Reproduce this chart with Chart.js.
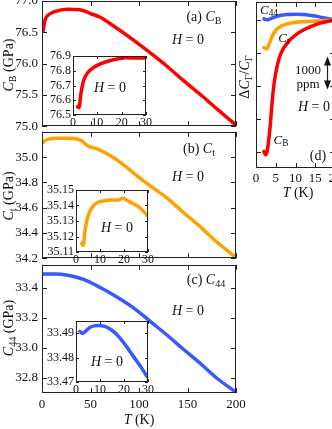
<!DOCTYPE html>
<html>
<head>
<meta charset="utf-8">
<script src="https://cdn.jsdelivr.net/npm/chart.js"></script>
<style>
  html, body { margin:0; padding:0; background:#fff; }
  body { width:332px; height:429px; position:relative; overflow:hidden; font-family:"Liberation Serif", serif; color:#111; }
  .box { position:absolute; }
  .lbl { position:absolute; white-space:nowrap; font-size:14px; line-height:1; transform:translate(-50%,-50%); }
  .rot { transform:translate(-50%,-50%) rotate(-90deg); }
  .sm { font-size:13px; }
  i { font-style:italic; }
  sub { font-size:72%; vertical-align:-0.3em; line-height:0; font-style:normal; }
</style>
</head>
<body>
<script>
// ---- data ----
// (a) C_B (GPa) vs T (K)
const tempA = [1.3, 3, 6, 13, 26, 39, 50, 60, 70, 94, 111, 128, 145, 163, 180, 199];
const cB    = [76.53, 76.69, 76.77, 76.83, 76.87, 76.86, 76.80, 76.74, 76.64, 76.38, 76.18, 75.97, 75.74, 75.51, 75.28, 75.03];
// (b) C_t
const tempB = [1, 3, 6, 16, 30, 40, 47, 57, 66, 78, 95, 112, 130, 146, 163, 180, 199];
const cT    = [35.115, 35.13, 35.14, 35.149, 35.149, 35.133, 35.09, 35.064, 35.03, 34.974, 34.87, 34.77, 34.67, 34.56, 34.45, 34.33, 34.21];
// (c) C_44
const tempC = [1, 5, 15, 25, 44, 61, 78.5, 96, 113, 130, 147, 164.5, 180, 199];
const c44   = [33.494, 33.494, 33.494, 33.487, 33.455, 33.40, 33.335, 33.26, 33.17, 33.08, 32.985, 32.89, 32.80, 32.71];

// insets, 0-30 K
const tempInA = [1.9, 2.5, 3.2, 4, 5, 6.5, 8.3, 11, 15, 19, 22, 26, 30];
const cBIn    = [76.555, 76.55, 76.64, 76.71, 76.76, 76.795, 76.82, 76.845, 76.868, 76.883, 76.888, 76.886, 76.886];
const tempInB = [2.3, 3.0, 3.7, 4.7, 6.4, 8, 9.9, 12, 14, 17.4, 19.5, 22.2, 26.3, 29.7];
const cTIn    = [35.1154, 35.1143, 35.123, 35.1316, 35.138, 35.141, 35.1425, 35.143, 35.1435, 35.1435, 35.1446, 35.1425, 35.139, 35.1335];
const tempInC = [1.6, 2.7, 3.7, 5.5, 7.5, 9.5, 12, 15, 18, 21, 24, 27, 29.8];
const c44In   = [33.4908, 33.4899, 33.4905, 33.4922, 33.4930, 33.4932, 33.4928, 33.4912, 33.4884, 33.4846, 33.4804, 33.4762, 33.4720];

// (d) dC/C in ppm, 0-20 K
const tempDB  = [2.0, 2.4, 2.8, 3.2, 3.6, 4.0, 4.5, 5.0, 6.0, 7.0, 8.0, 10, 12, 14, 16, 18, 20];
const dCB     = [-3980, -4080, -4000, -3650, -3200, -2600, -2000, -1600, -1100, -850, -680, -450, -300, -190, -100, -40, 0];
const tempDT  = [2.0, 2.4, 2.8, 3.2, 3.7, 4.2, 4.8, 5.5, 6.5, 8, 10, 12, 14, 16, 18, 20];
const dCT     = [-830, -860, -870, -760, -610, -460, -340, -250, -170, -110, -65, -45, -30, -25, -10, 0];
const tempD44 = [2.0, 2.5, 3.0, 4, 5, 6, 8, 10, 12, 14, 16, 18, 20];
const dC44    = [40, 20, 15, 60, 105, 140, 170, 178, 170, 140, 100, 50, 0];

// ticks
const tTicks    = [0, 50, 100, 150, 200];
const yTicksA   = [75.0, 75.5, 76.0, 76.5, 77.0];
const yTicksB   = [34.2, 34.4, 34.6, 34.8, 35.0, 35.2];
const yTicksC   = [32.8, 33.0, 33.2, 33.4];
const inTTicks  = [0, 10, 20, 30];
const inTicksA  = [76.5, 76.6, 76.7, 76.8, 76.9];
const inTicksB  = [35.11, 35.12, 35.13, 35.14, 35.15];
const inTicksC  = [33.47, 33.48, 33.49];
const dTTicks   = [0, 5, 10, 15, 20];
const dYTicks   = [-4000, -3000, -2000, -1000, 0];

const RED = 'rgb(255,0,0)', ORANGE = 'rgb(255,162,0)', BLUE = 'rgb(55,90,255)';

// frame + inward ticks on all four sides
const framePlugin = {
  id: 'frame',
  beforeDatasetsDraw(chart, args, opts) {
    if (!opts.fill) return;
    const a = chart.chartArea, ctx = chart.ctx;
    ctx.save(); ctx.fillStyle = '#fff';
    ctx.fillRect(a.left, a.top, a.right - a.left, a.bottom - a.top);
    ctx.restore();
  },
  afterDatasetsDraw(chart, args, opts) {
    const {ctx, chartArea: a, scales: {x, y}} = chart;
    const L = opts.len || 5;
    ctx.save();
    ctx.strokeStyle = '#222'; ctx.lineWidth = 1;
    ctx.strokeRect(Math.round(a.left) + 0.5, Math.round(a.top) + 0.5, Math.round(a.right - a.left) - 1, Math.round(a.bottom - a.top) - 1);
    ctx.beginPath();
    x.ticks.forEach(t => {
      const p = Math.round(x.getPixelForValue(t.value)) + 0.5;
      ctx.moveTo(p, a.bottom); ctx.lineTo(p, a.bottom - L);
      ctx.moveTo(p, a.top); ctx.lineTo(p, a.top + L);
    });
    y.ticks.forEach(t => {
      const p = Math.round(y.getPixelForValue(t.value)) + 0.5;
      ctx.moveTo(a.left, p); ctx.lineTo(a.left + L, p);
      ctx.moveTo(a.right, p); ctx.lineTo(a.right - L, p);
    });
    ctx.stroke();
    if (opts.arrow) {
      // 1000 ppm scale arrow
      const ax = Math.round(x.getPixelForValue(opts.arrow.x)) + 0.5;
      const y0 = y.getPixelForValue(opts.arrow.from), y1 = y.getPixelForValue(opts.arrow.to);
      ctx.fillStyle = '#111'; ctx.lineWidth = 1.2;
      ctx.beginPath(); ctx.moveTo(ax, y0 + 5); ctx.lineTo(ax, y1 - 5); ctx.stroke();
      ctx.beginPath(); ctx.moveTo(ax, y0); ctx.lineTo(ax - 3.5, y0 + 9); ctx.lineTo(ax + 3.5, y0 + 9); ctx.fill();
      ctx.beginPath(); ctx.moveTo(ax, y1); ctx.lineTo(ax - 3.5, y1 - 9); ctx.lineTo(ax + 3.5, y1 - 9); ctx.fill();
    }
    ctx.restore();
  }
};

function setTicks(arr) {
  return scale => { scale.ticks = arr.map(v => ({value: v})); };
}

// box = canvas [left, top, w, h] on the page, area = plot rect [x0, y0, x1, y1] on the page
function makeChart(box, area, o) {
  const wrap = document.createElement('div');
  wrap.className = 'box';
  wrap.style.left = box[0] + 'px'; wrap.style.top = box[1] + 'px';
  wrap.style.width = box[2] + 'px'; wrap.style.height = box[3] + 'px';
  const c = document.createElement('canvas');
  c.width = box[2]; c.height = box[3];
  c.style.width = box[2] + 'px'; c.style.height = box[3] + 'px';
  wrap.appendChild(c);
  document.body.appendChild(wrap);
  const fs = o.fontSize || 13;
  return new Chart(c, {
    type: 'line',
    data: {
      datasets: o.sets.map(s => ({
        data: s.x.map((t, i) => ({x: t, y: s.y[i]})),
        borderColor: s.color, borderWidth: s.w || 3.5,
        pointRadius: 0, cubicInterpolationMode: 'monotone', fill: false,
        borderCapStyle: 'round', borderJoinStyle: 'round'
      }))
    },
    options: {
      responsive: false, maintainAspectRatio: false, animation: false,
      events: [],
      layout: {autoPadding: false, padding: {top: area[1] - box[1], right: box[0] + box[2] - area[2], left: 0, bottom: 0}},
      plugins: {legend: {display: false}, tooltip: {enabled: false}, frame: {len: o.tickLen || 5, fill: !!o.fill, arrow: o.arrow}},
      scales: {
        x: {
          type: 'linear', min: o.xMin, max: o.xMax,
          afterBuildTicks: setTicks(o.xTicks),
          afterFit: s => { s.height = box[1] + box[3] - area[3]; },
          grid: {display: false, drawTicks: false}, border: {display: false},
          ticks: {display: o.showX !== false, autoSkip: false, padding: o.xPad === undefined ? 4 : o.xPad, color: '#111',
                  font: {family: 'Liberation Serif', size: fs}, maxRotation: 0,
                  callback: v => String(v)}
        },
        y: {
          type: 'linear', min: o.yMin, max: o.yMax,
          afterBuildTicks: setTicks(o.yTicks),
          afterFit: s => { s.width = area[0] - box[0]; },
          grid: {display: false, drawTicks: false}, border: {display: false},
          ticks: {display: o.showY !== false, autoSkip: false, padding: o.yPad || 4, color: '#111',
                  font: {family: 'Liberation Serif', size: fs},
                  callback: o.yFmt}
        }
      }
    },
    plugins: [framePlugin]
  });
}

function label(html, x, y, cls) {
  const d = document.createElement('div');
  d.className = 'lbl' + (cls ? ' ' + cls : '');
  d.style.left = x + 'px'; d.style.top = y + 'px';
  d.innerHTML = html;
  document.body.appendChild(d);
}

// main panels
makeChart([0, -12, 250, 150], [42, 1, 236, 130], {
  sets: [{x: tempA, y: cB, color: RED}],
  xMin: 0, xMax: 200, yMin: 75, yMax: 77, xTicks: tTicks, yTicks: yTicksA,
  showX: false, yFmt: v => v.toFixed(1)
});
makeChart([0, 120, 250, 150], [42, 130, 236, 263], {
  sets: [{x: tempB, y: cT, color: ORANGE}],
  xMin: 0, xMax: 200, yMin: 34.2, yMax: 35.2, xTicks: tTicks, yTicks: yTicksB,
  showX: false, yFmt: v => (v > 35.1 ? '' : v.toFixed(1))
});
makeChart([0, 253, 260, 176], [42, 263, 236, 393], {
  sets: [{x: tempC, y: c44, color: BLUE}],
  xMin: 0, xMax: 200, yMin: 32.7, yMax: 33.555, xTicks: tTicks, yTicks: yTicksC,
  yFmt: v => v.toFixed(1)
});

// insets
makeChart([30, 46, 125, 85], [73, 56, 146, 115], {
  sets: [{x: tempInA, y: cBIn, color: RED, w: 3.5}],
  xMin: 0, xMax: 30, yMin: 76.5, yMax: 76.9, xTicks: inTTicks, yTicks: inTicksA,
  fontSize: 12, tickLen: 3, fill: true, xPad: 1, yPad: 2, yFmt: v => v.toFixed(1)
});
makeChart([30, 180, 125, 90], [76, 190, 149, 252], {
  sets: [{x: tempInB, y: cTIn, color: ORANGE, w: 3.5}],
  xMin: 0, xMax: 30, yMin: 35.11, yMax: 35.15, xTicks: inTTicks, yTicks: inTicksB,
  fontSize: 12, tickLen: 3, fill: true, xPad: 1, yPad: 2, yFmt: v => v.toFixed(2)
});
makeChart([30, 311, 125, 90], [76, 321, 149, 382], {
  sets: [{x: tempInC, y: c44In, color: BLUE, w: 3.5}],
  xMin: 0, xMax: 30, yMin: 33.47, yMax: 33.495, xTicks: inTTicks, yTicks: inTicksC,
  fontSize: 12, tickLen: 3, fill: true, xPad: 1, yPad: 2, yFmt: v => v.toFixed(2)
});

// panel (d), cut off at the right edge of the figure
makeChart([240, -10, 110, 220], [256, 2, 335, 168], {
  sets: [
    {x: tempDB, y: dCB, color: RED, w: 3.5},
    {x: tempDT, y: dCT, color: ORANGE, w: 3.5},
    {x: tempD44, y: dC44, color: BLUE, w: 3.5}
  ],
  xMin: 0, xMax: 20, yMin: -4480, yMax: 550, xTicks: dTTicks, yTicks: dYTicks,
  showY: false, xPad: 3, arrow: {x: 18.0, from: -1100, to: -2100}
});

// text
label('<i>C</i><sub>B</sub> (GPa)', 9, 65, 'rot');
label('<i>C</i><sub>t</sub> (GPa)', 9, 196, 'rot');
label('<i>C</i><sub>44</sub> (GPa)', 9, 328, 'rot');
label('<i>T</i> (K)', 139, 420);
label('(a) <i>C</i><sub>B</sub>', 204, 17);
label('(b) <i>C</i><sub>t</sub>', 199, 149);
label('(c) <i>C</i><sub>44</sub>', 206, 280);
label('<i>H</i> = 0', 188, 40);
label('<i>H</i> = 0', 188, 177);
label('<i>H</i> = 0', 188, 311);
label('<i>H</i> = 0', 110, 88);
label('<i>H</i> = 0', 117, 228);
label('<i>H</i> = 0', 107, 362);

label('&Delta;<i>C</i><sub>&Gamma;</sub>/<i>C</i><sub>&Gamma;</sub>', 245, 77, 'rot');
label('<i>T</i> (K)', 298, 193);
label('<i>C</i><sub>44</sub>', 269, 9, 'sm');
label('<i>C</i><sub>t</sub>', 284, 37, 'sm');
label('<i>C</i><sub>B</sub>', 281, 139, 'sm');
label('1000', 308, 69, 'sm');
label('ppm', 308, 83, 'sm');
label('<i>H</i> = 0', 314, 107);
label('(d)', 318, 156);
</script>
</body>
</html>
